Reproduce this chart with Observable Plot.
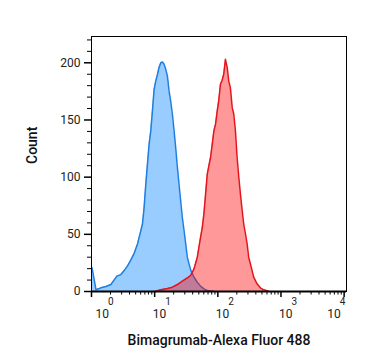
<!DOCTYPE html>
<html><head><meta charset="utf-8">
<script src="https://cdn.jsdelivr.net/npm/d3@7"></script>
<script src="https://cdn.jsdelivr.net/npm/@observablehq/plot@0.6"></script>
<style>
body{margin:0;background:#fff}
svg{font-family:Roboto,sans-serif}
</style>
</head><body><div id="chart"></div>
<script>
// Isotype control (blue)
const blueX = [1.02,1.18,1.41,1.69,2.03,2.29,2.52,2.92,3.29,3.72,4.20,4.74,5.35,6.04,6.41,6.81,7.24,7.69,8.17,8.68,9.22,9.80,10.4,11.1,11.7,12.5,13.3,14.1,15.0,15.9,16.9,17.9,19.1,20.3,21.5,22.9,24.3,25.8,27.4,29.2,31.0,32.9,35.0,37.1,42.0,47.3,53.3,60.2,68.1,86.7];
const blueCount = [20.7,1.5,3.2,4.4,6.1,10.2,13.4,14.8,18.3,22.4,27.6,33.4,41.6,53.2,59,73.6,94,111.4,128.9,140.5,158,176.8,184,190,195.7,200.1,200.7,198.7,194.3,188.5,175.4,166.7,155,140.5,126,108.5,94,79.4,64.9,53.2,41.6,30,24.1,18.9,12.5,8.1,4.7,2.3,0.9,0.3];
// Bimagrumab stained (red)
const redX = [10.4,12.5,15.9,19.1,22.9,27.4,32.9,37.1,42.0,47.3,50.2,53.3,56.8,60.2,64.0,68.1,72.2,76.7,81.6,86.7,92.0,97.9,104,110,117,124,132,141,149,158,169,179,190,202,215,228,243,257,274,291,308,328,349,370,418,472,532,637];
const redCount = [0.3,1.5,2.6,3.8,6.1,9.0,11.9,14,19.8,30,38.7,47.4,56.1,67.8,85.2,102.7,110,117.2,128.9,140.5,146.3,158,168.1,181.2,184.7,190,203,195.7,184,178.3,160.8,155,140.5,117.2,99.8,85.2,70.7,59,50.3,41.6,30,24.1,18.3,12.5,6.7,3.2,1.5,0.3];

const yMajorTicks = [0,50,100,150,200];
const yMinorTicks = [10,20,30,40,60,70,80,90,110,120,130,140,160,170,180,190,210,220];
const xMajorTicks = [1,10,100,1000,10000];
const xMinorTicks = [2,3,4,5,6,7,8,9,20,30,40,50,60,70,80,90,200,300,400,500,600,700,800,900,2000,3000,4000,5000,6000,7000,8000,9000];
const xTickBase = ["10","10","10","10","10"];
const xTickExp = ["0","1","2","3","4"];
const xTitle = "Bimagrumab-Alexa Fluor 488";
const yTitle = "Count";

const blue = blueX.map((x,i)=>({x, y: blueCount[i]}));
const red = redX.map((x,i)=>({x, y: redCount[i]}));
const xTicks = xMajorTicks.map((v,i)=>({v, base: xTickBase[i], exp: xTickExp[i]}));

const tickLabels = (filter, dx) => [
  Plot.text(xTicks, {filter, x: "v", text: "base", frameAnchor: "bottom", textAnchor: "start", lineAnchor: "bottom", dx, dy: 26, fontSize: 12, fill: "#222"}),
  Plot.text(xTicks, {filter, x: "v", text: "exp", frameAnchor: "bottom", textAnchor: "start", lineAnchor: "bottom", dx: dx + 12.5, dy: 13, fontSize: 10, fill: "#222"})
];

const chart = Plot.plot({
  width: 367,
  height: 364,
  marginLeft: 91,
  marginRight: 21,
  marginTop: 36,
  marginBottom: 73,
  style: {fontSize: "12px", fontFamily: "Roboto, sans-serif"},
  x: {type: "log", domain: [1, 10900]},
  y: {domain: [0, 223]},
  marks: [
    Plot.areaY(blue, {x: "x", y: "y", fill: "rgb(0,128,255)", fillOpacity: 0.4}),
    Plot.lineY(blue, {x: "x", y: "y", stroke: "#1f7fe0", strokeWidth: 1.5}),
    Plot.areaY(red, {x: "x", y: "y", fill: "rgb(255,0,0)", fillOpacity: 0.4}),
    Plot.lineY(red, {x: "x", y: "y", stroke: "#e3141c", strokeWidth: 1.5}),
    Plot.frame({stroke: "black", strokeWidth: 1}),
    Plot.ruleY([0], {stroke: "black", strokeWidth: 2}),
    Plot.axisY(yMajorTicks, {tickSize: 7, tickPadding: 4, label: null, stroke: "black", strokeWidth: 1.5, fill: "#222"}),
    Plot.axisY(yMinorTicks, {tickSize: 4, tickFormat: () => "", label: null, stroke: "black"}),
    Plot.axisX(xMajorTicks, {tickSize: 6, tickFormat: () => "", label: null, stroke: "black", strokeWidth: 1.5}),
    Plot.axisX(xMinorTicks, {tickSize: 3.5, tickFormat: () => "", label: null, stroke: "black"}),
    ...tickLabels((d,i) => i === 0, 4),
    ...tickLabels((d,i) => i > 0 && i < 4, -2),
    ...tickLabels((d,i) => i === 4, -17),
    Plot.text([yTitle], {frameAnchor: "left", rotate: -90, dx: -59, fontSize: 14, fontWeight: 500, fill: "#111"}),
    Plot.text([xTitle], {frameAnchor: "bottom", lineAnchor: "bottom", dy: 53, fontSize: 14, fontWeight: 500, fill: "#111"})
  ]
});
document.getElementById("chart").append(chart);
</script>
</body></html>
